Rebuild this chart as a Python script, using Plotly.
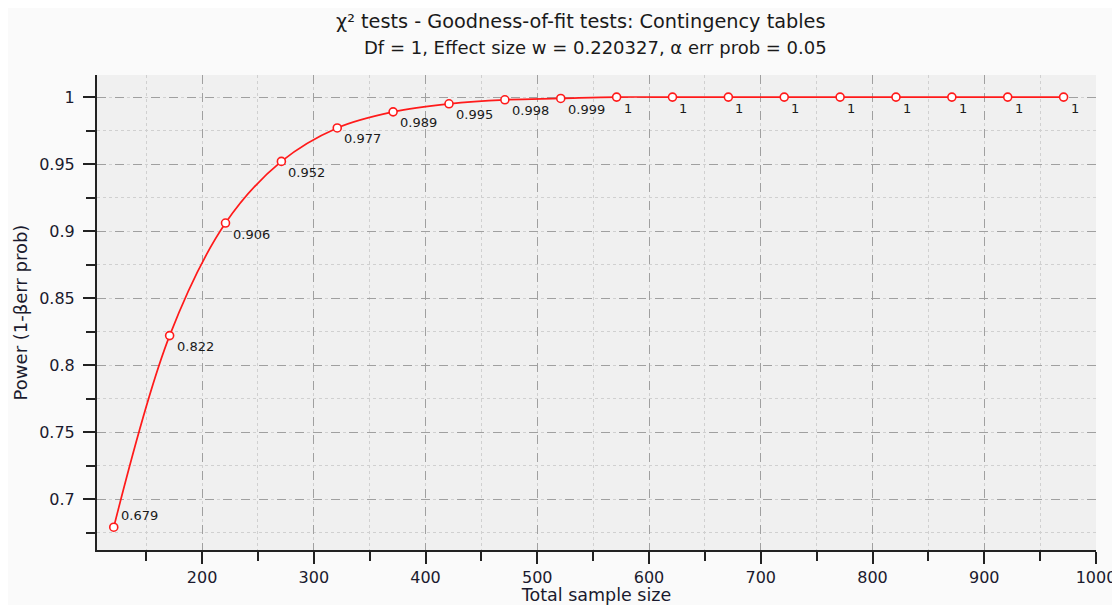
import plotly.graph_objects as go

sample_size = [121, 171, 221, 271, 321, 371, 421, 471, 521, 571, 621, 671, 721, 771, 821, 871, 921, 971]
power = [0.679, 0.822, 0.906, 0.952, 0.977, 0.989, 0.995, 0.998, 0.999, 1, 1, 1, 1, 1, 1, 1, 1, 1]
x_ticks = [200, 300, 400, 500, 600, 700, 800, 900, 1000]
y_ticks = [0.7, 0.75, 0.8, 0.85, 0.9, 0.95, 1]

title1 = "χ² tests - Goodness-of-fit tests: Contingency tables"
title2 = "Df = 1, Effect size w = 0.220327, α err prob = 0.05"

FONT = "DejaVu Sans"

def fmt(v):
    s = f"{v:.3f}".rstrip("0").rstrip(".")
    return s

fig = go.Figure()
fig.add_trace(go.Scatter(
    x=sample_size, y=power, mode="lines+markers",
    line=dict(color="#ff1a1a", width=1.7, shape="spline"),
    marker=dict(symbol="circle", size=8, color="white",
                line=dict(color="#ff1a1a", width=1.6)),
    hoverinfo="skip", showlegend=False,
))

annotations = []
for i, (xv, yv) in enumerate(zip(sample_size, power)):
    annotations.append(dict(
        x=xv, y=yv, xref="x", yref="y", text=fmt(yv), showarrow=False,
        xanchor="left", yanchor="middle", xshift=5,
        yshift=12 if i == 0 else -11,
        font=dict(family=FONT, size=13, color="#1a1a1a"),
    ))
annotations.append(dict(x=0.4845, y=1.112, xref="paper", yref="paper", text=title1,
                        showarrow=False, xanchor="center", yanchor="middle",
                        font=dict(family=FONT, size=19.3, color="#1a1a1a")))
annotations.append(dict(x=0.4985, y=1.057, xref="paper", yref="paper", text=title2,
                        showarrow=False, xanchor="center", yanchor="middle",
                        font=dict(family=FONT, size=18, color="#1a1a1a")))

fig.update_layout(
    width=1112, height=597,
    margin=dict(l=89, r=24, t=67, b=55, autoexpand=False),
    paper_bgcolor="#fafafa", plot_bgcolor="#f0f0f0",
    annotations=annotations,
    font=dict(family=FONT, size=16, color="#1a1a2e"),
)
fig.update_xaxes(
    range=[106, 1000], tickvals=x_ticks, ticks="outside", ticklen=12, tickwidth=2,
    tickcolor="#222", showline=True, linecolor="#222", linewidth=2,
    showgrid=True, gridcolor="#a0a0a0", griddash="dash", gridwidth=1,
    zeroline=False, automargin=False,
    minor=dict(dtick=50, tick0=0, ticks="outside", ticklen=9, tickwidth=2, tickcolor="#222",
               showgrid=True, gridcolor="#d0d0d0", griddash="dot", gridwidth=1),
    title=dict(text="Total sample size", standoff=6, font=dict(family=FONT, size=17.5)),
    tickfont=dict(family=FONT, size=16, color="#1a1a2e"),
)
fig.update_yaxes(
    range=[0.662, 1.0165], tickvals=y_ticks, ticktext=[fmt(v) for v in y_ticks],
    ticks="outside", ticklen=12, tickwidth=2, ticklabelstandoff=5,
    tickcolor="#222", showline=True, linecolor="#222", linewidth=2,
    showgrid=True, gridcolor="#a0a0a0", griddash="dash", gridwidth=1,
    zeroline=False, automargin=False,
    minor=dict(dtick=0.025, tick0=0, ticks="outside", ticklen=9, tickwidth=2, tickcolor="#222",
               showgrid=True, gridcolor="#d0d0d0", griddash="dot", gridwidth=1),
    title=dict(text="Power (1-βerr prob)", standoff=7, font=dict(family=FONT, size=18)),
    tickfont=dict(family=FONT, size=16, color="#1a1a2e"),
)

fig.write_html("out.html")
